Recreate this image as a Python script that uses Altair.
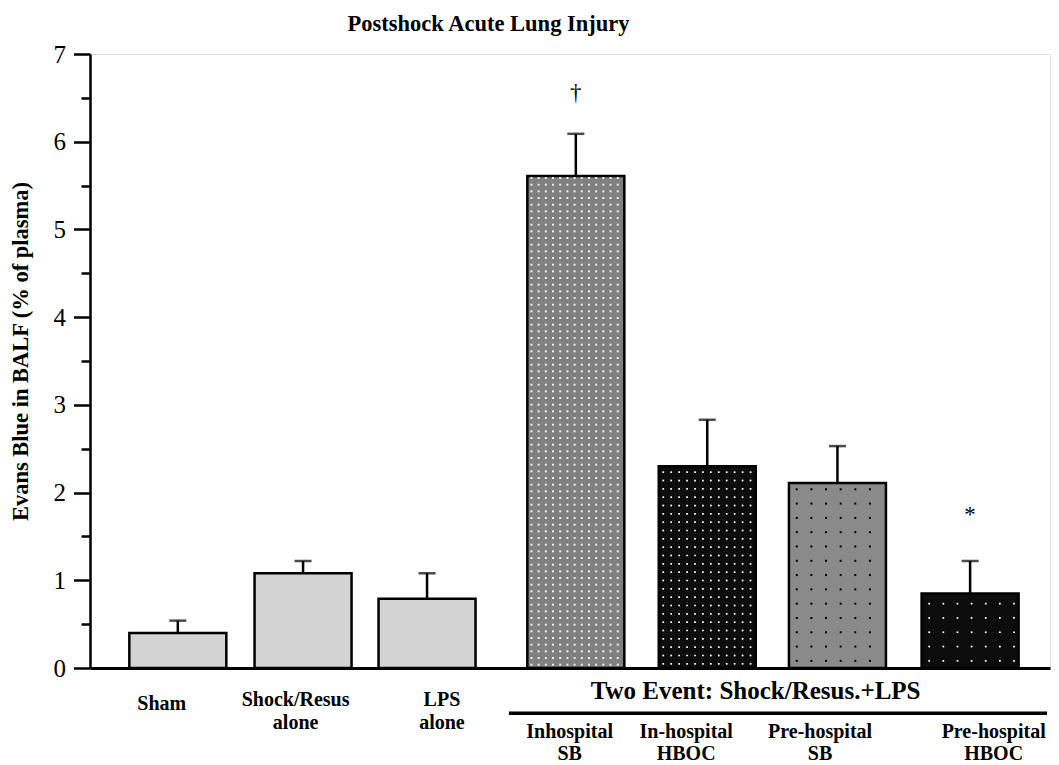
import altair as alt
import pandas as pd

# ---- data ----
categories = ["Sham", "Shock/Resus\nalone", "LPS\nalone", "Inhospital\nSB",
              "In-hospital\nHBOC", "Pre-hospital\nSB", "Pre-hospital\nHBOC"]
means = [0.40, 1.08, 0.79, 5.61, 2.30, 2.11, 0.85]
sem = [0.14, 0.14, 0.29, 0.48, 0.53, 0.42, 0.37]
markers = ["", "", "", "\u2020", "", "", "*"]
group_title = "Two Event: Shock/Resus.+LPS"
chart_title = "Postshock Acute Lung Injury"
y_title = "Evans Blue in BALF (% of plasma)"
y_ticks = [i * 0.5 for i in range(15)]

# ---- layout (positions on the hidden x scale) ----
bar_pos = [-0.03, 0.98, 1.98, 3.18, 4.24, 5.29, 6.36]
label_pos = [-0.16, 0.92, 2.10, 3.13, 4.07, 5.15, 6.55]
marker_gap = [0, 0, 0, 0.46, 0, 0, 0.52]
group_of = [1, 1, 1, 2, 2, 2, 2]
line_y = {1: [-0.365, -0.625], 2: [-0.735, -0.975]}
single_line_y = -0.41
group_title_pos = (4.63, -0.259)
group_rule = (2.64, 6.98, -0.516)

# ---- styles ----
fills = ["#d3d3d3", "#d3d3d3", "#d3d3d3", "#808080", "#0c0c0c", "#8a8a8a", "#0c0c0c"]
dot_colors = ["", "", "", "#f0f0f0", "#ffffff", "#000000", "#ffffff"]
dot_dx = [1, 1, 1, 0.058, 0.064, 0.118, 0.114]
dot_dy = [1, 1, 1, 0.076, 0.095, 0.163, 0.163]
dot_size = [0, 0, 0, 4, 3, 4, 3]
FONT = "Liberation Serif"

bars = pd.DataFrame({
    "category": categories,
    "pos": bar_pos,
    "mean": means,
    "upper": [m + s for m, s in zip(means, sem)],
    "fill": fills,
    "dot_color": dot_colors,
    "ddx": dot_dx,
    "ddy": dot_dy,
    "dsize": dot_size,
    "marker": markers,
    "marker_y": [m + s + g for m, s, g in zip(means, sem, marker_gap)],
})

rows = []
for cat, lp, g in zip(categories, label_pos, group_of):
    lines = cat.split("\n")
    ys = [single_line_y] if len(lines) == 1 else line_y[g]
    for ln, yy in zip(lines, ys):
        rows.append({"text": ln, "x": lp, "y": yy})
labels = pd.DataFrame(rows)

xs = alt.Scale(domain=[-0.698, 6.964], nice=False, zero=False)
ys_ = alt.Scale(domain=[0, 7], nice=False, zero=False)

yaxis = alt.Axis(
    values=y_ticks,
    labelExpr="datum.value % 1 === 0 ? format(datum.value, 'd') : ''",
    tickSize={"condition": {"test": "datum.value % 1 === 0", "value": 16.5}, "value": 9},
    tickWidth=2.5, tickColor="black",
    domainWidth=2.5, domainColor="black",
    labelFont=FONT, labelFontSize=25, labelColor="black", labelPadding=8,
    grid=False,
    title=y_title, titleFont=FONT, titleFontSize=22.5, titleFontWeight="bold",
    titleColor="black", titleAngle=-90, titleX=-70, titleY=297,
    titleAlign="center", titleBaseline="middle",
)
xaxis = alt.Axis(labels=False, ticks=False, domain=True, domainWidth=3,
                 domainColor="black", grid=False, title=None)


def X(field):
    return alt.X(field, scale=xs, axis=xaxis)


def Y(field):
    return alt.Y(field, scale=ys_, axis=yaxis)


base = alt.Chart(bars)

bar_layer = base.mark_bar(size=97, stroke="black", strokeWidth=2.5, orient="vertical").encode(
    x=X("pos:Q"), y=Y("mean:Q"), fill=alt.Fill("fill:N", scale=None),
)

dots = base.transform_filter("datum.dot_color != ''").transform_calculate(
    xs="sequence(datum.pos - 0.387 + datum.ddx / 2, datum.pos + 0.38, datum.ddx)"
).transform_flatten(["xs"]).transform_calculate(
    ys="sequence(datum.ddy / 2, datum.mean - 0.02, datum.ddy)"
).transform_flatten(["ys"]).mark_square(opacity=1).encode(
    x=X("xs:Q"), y=Y("ys:Q"), color=alt.Color("dot_color:N", scale=None),
    size=alt.Size("dsize:Q", scale=None),
)

err_rule = base.mark_rule(color="black", strokeWidth=2.5).encode(
    x=X("pos:Q"), y=Y("mean:Q"), y2="upper:Q",
)
err_cap = base.mark_tick(color="black", orient="horizontal", size=17, thickness=2.5).encode(
    x=X("pos:Q"), y=Y("upper:Q"),
)

marker_layer = base.transform_filter("datum.marker != ''").mark_text(
    font=FONT, fontSize=23, color="black", baseline="middle", align="center"
).encode(x=X("pos:Q"), y=Y("marker_y:Q"), text="marker:N")

label_layer = alt.Chart(labels).mark_text(
    font=FONT, fontSize=20, fontWeight="bold", color="black", baseline="middle", align="center"
).encode(x=X("x:Q"), y=Y("y:Q"), text="text:N")

grp = pd.DataFrame({"text": [group_title], "x": [group_title_pos[0]], "y": [group_title_pos[1]],
                    "x1": [group_rule[0]], "x2": [group_rule[1]], "ry": [group_rule[2]]})
group_text = alt.Chart(grp).mark_text(
    font=FONT, fontSize=25, fontWeight="bold", color="black", baseline="middle", align="center"
).encode(x=X("x:Q"), y=Y("y:Q"), text="text:N")
group_line = alt.Chart(grp).mark_rule(color="black", strokeWidth=3.5).encode(
    x=X("x1:Q"), x2="x2:Q", y=Y("ry:Q"),
)

chart = alt.layer(
    bar_layer, dots, err_rule, err_cap, marker_layer, label_layer, group_text, group_line
).properties(
    width=960, height=614,
    padding={"left": 82, "top": 46, "right": 1, "bottom": 97},
    autosize=alt.AutoSizeParams(type="none"),
    title=alt.Title(chart_title, font=FONT, fontSize=22.5, fontWeight="bold", color="black",
                    anchor="start", frame="group", dx=257.6, offset=0, dy=11,
                    baseline="alphabetic"),
).configure_view(strokeWidth=0).configure(background="white")

chart.save("out.html", embed_options={"renderer": "svg", "actions": False})
